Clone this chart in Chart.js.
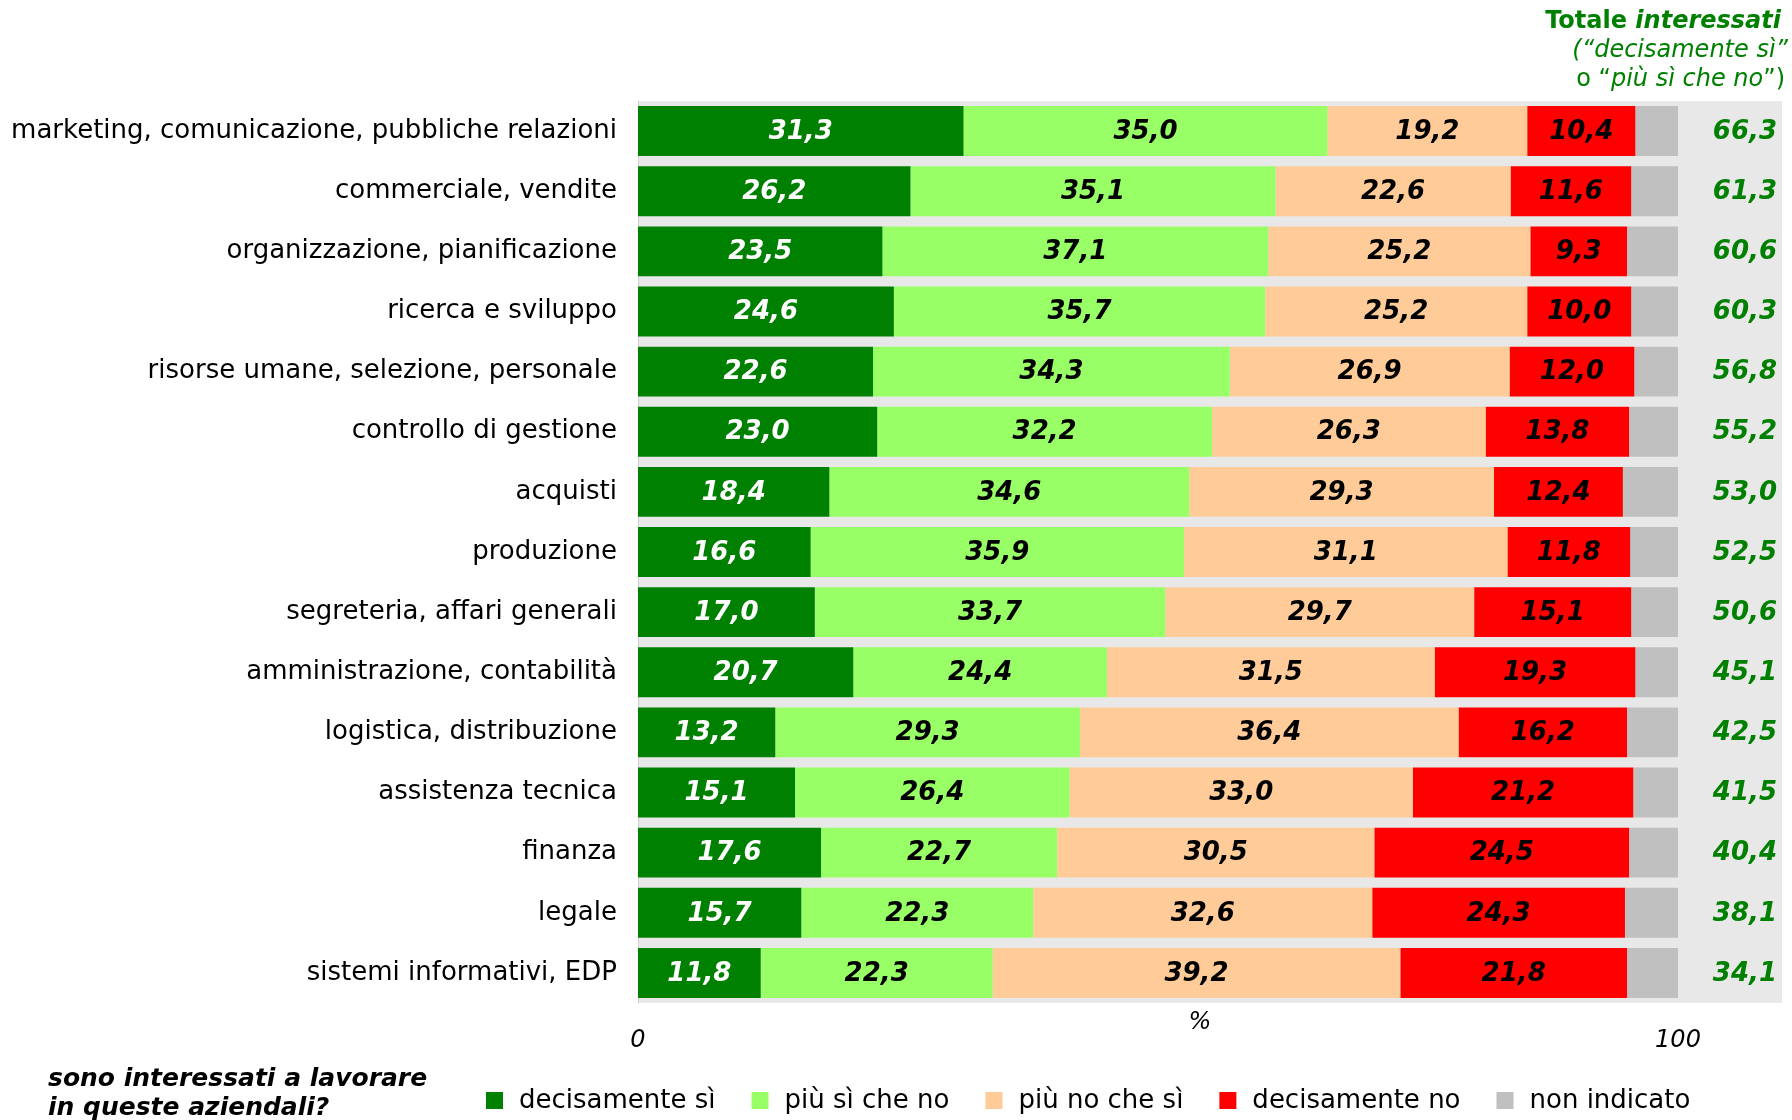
<!DOCTYPE html>
<html>
<head>
<meta charset="utf-8">
<script src="https://cdn.jsdelivr.net/npm/chart.js@4.4.1/dist/chart.umd.min.js"></script>
<style>
  html, body { margin: 0; padding: 0; background: #fff; }
  #wrap { width: 1792px; height: 1120px; }
</style>
</head>
<body>
<div id="wrap"><canvas id="chart" width="1792" height="1120"></canvas></div>
<script>
const areas = [
  "marketing, comunicazione, pubbliche relazioni",
  "commerciale, vendite",
  "organizzazione, pianificazione",
  "ricerca e sviluppo",
  "risorse umane, selezione, personale",
  "controllo di gestione",
  "acquisti",
  "produzione",
  "segreteria, affari generali",
  "amministrazione, contabilità",
  "logistica, distribuzione",
  "assistenza tecnica",
  "finanza",
  "legale",
  "sistemi informativi, EDP"
];
const decisamenteSi = [31.3, 26.2, 23.5, 24.6, 22.6, 23.0, 18.4, 16.6, 17.0, 20.7, 13.2, 15.1, 17.6, 15.7, 11.8];
const piuSiCheNo    = [35.0, 35.1, 37.1, 35.7, 34.3, 32.2, 34.6, 35.9, 33.7, 24.4, 29.3, 26.4, 22.7, 22.3, 22.3];
const piuNoCheSi    = [19.2, 22.6, 25.2, 25.2, 26.9, 26.3, 29.3, 31.1, 29.7, 31.5, 36.4, 33.0, 30.5, 32.6, 39.2];
const decisamenteNo = [10.4, 11.6,  9.3, 10.0, 12.0, 13.8, 12.4, 11.8, 15.1, 19.3, 16.2, 21.2, 24.5, 24.3, 21.8];
const nonIndicato   = [ 4.1,  4.5,  4.9,  4.5,  4.2,  4.7,  5.3,  4.6,  4.5,  4.1,  4.9,  4.3,  4.7,  5.1,  4.9];
const totaleInteressati = [66.3, 61.3, 60.6, 60.3, 56.8, 55.2, 53.0, 52.5, 50.6, 45.1, 42.5, 41.5, 40.4, 38.1, 34.1];
const seriesNames = ["decisamente sì", "più sì che no", "più no che sì", "decisamente no", "non indicato"];
const xTicks = [0, 100];

const colors = ["#008000", "#99ff66", "#ffcc99", "#ff0000", "#c0c0c0"];
const valueColors = ["#ffffff", "#000000", "#000000", "#000000", null];
const FONT = "'DejaVu Sans', Verdana, sans-serif";
const GREEN = "#008000";

const fmt = v => v.toFixed(1).replace(".", ",");

// plot background
const bgPlugin = {
  id: "bg",
  beforeDraw(chart) {
    const { ctx, chartArea: a } = chart;
    ctx.save();
    ctx.fillStyle = "#e8e8e8";
    ctx.fillRect(a.left, a.top, a.right - a.left, a.bottom - a.top);
    ctx.fillStyle = "#cfcfcf";
    ctx.fillRect(a.left, a.top, 1, a.bottom - a.top);
    ctx.restore();
  }
};

// numbers inside bars + totals on the right
const valuesPlugin = {
  id: "values",
  afterDatasetsDraw(chart) {
    const { ctx, chartArea: a } = chart;
    ctx.save();
    ctx.font = "italic bold 26px " + FONT;
    ctx.textAlign = "center";
    ctx.textBaseline = "middle";
    chart.data.datasets.forEach((ds, i) => {
      if (!valueColors[i]) return;
      ctx.fillStyle = valueColors[i];
      chart.getDatasetMeta(i).data.forEach((bar, j) => {
        ctx.fillText(fmt(ds.data[j]), (bar.x + bar.base) / 2, bar.y + 1);
      });
    });
    ctx.fillStyle = GREEN;
    ctx.textAlign = "right";
    const y = chart.scales.y;
    totaleInteressati.forEach((t, j) => {
      ctx.fillText(fmt(t), a.right - 5, y.getPixelForValue(j) + 1);
    });
    ctx.restore();
  }
};

function drawRuns(ctx, runs, right, y) {
  let w = 0;
  runs.forEach(r => { ctx.font = r[1]; w += ctx.measureText(r[0]).width; });
  let x = right - w;
  runs.forEach(r => {
    ctx.font = r[1];
    ctx.fillText(r[0], x, y);
    x += ctx.measureText(r[0]).width;
  });
}

// header, axis unit, legend
const extrasPlugin = {
  id: "extras",
  afterDraw(chart) {
    const { ctx, chartArea: a } = chart;
    ctx.save();
    ctx.textBaseline = "middle";
    ctx.textAlign = "left";
    ctx.fillStyle = GREEN;
    drawRuns(ctx, [["Totale ", "bold 24px " + FONT], ["interessati", "italic bold 24px " + FONT]], 1781, 22);
    drawRuns(ctx, [["(“", "italic 24px " + FONT], ["decisamente sì", "italic 24px " + FONT], ["”", "italic 24px " + FONT]], 1788, 51);
    drawRuns(ctx, [["o “", "24px " + FONT], ["più sì che no", "italic 24px " + FONT], ["”)", "24px " + FONT]], 1785, 80);

    ctx.fillStyle = "#000";
    ctx.font = "italic 24px " + FONT;
    ctx.textAlign = "center";
    ctx.fillText("%", (a.left + a.right) / 2 - 10, a.bottom + 20);

    // legend title
    ctx.textAlign = "left";
    ctx.font = "italic bold 25px " + FONT;
    ctx.fillText("sono interessati a lavorare", 48, 1079);
    ctx.fillText("in queste aziendali?", 48, 1108);

    // legend items
    ctx.font = "26px " + FONT;
    let x = 486;
    chart.data.datasets.forEach((ds, i) => {
      ctx.fillStyle = ds.backgroundColor;
      ctx.fillRect(x, 1092, 17, 17);
      ctx.fillStyle = "#000";
      ctx.fillText(ds.label, x + 33, 1101);
      x += 33 + ctx.measureText(ds.label).width + 36;
    });
    ctx.restore();
  }
};

const seriesData = [decisamenteSi, piuSiCheNo, piuNoCheSi, decisamenteNo, nonIndicato];

new Chart(document.getElementById("chart"), {
  type: "bar",
  data: {
    labels: areas,
    datasets: seriesData.map((d, i) => ({
      label: seriesNames[i],
      data: d,
      backgroundColor: colors[i],
      borderWidth: 0,
      barPercentage: 0.83,
      categoryPercentage: 1
    }))
  },
  options: {
    indexAxis: "y",
    responsive: false,
    animation: false,
    layout: { padding: { top: 101, right: 10, left: 0, bottom: 0 } },
    plugins: { legend: { display: false }, tooltip: { enabled: false } },
    scales: {
      x: {
        stacked: true,
        min: 0,
        max: 110,
        afterBuildTicks: s => { s.ticks = xTicks.map(v => ({ value: v })); },
        afterFit: s => { s.height = 117; },
        grid: { display: false, drawTicks: false },
        border: { display: false },
        ticks: { color: "#000", padding: 23, font: { family: FONT, size: 24, style: "italic" } }
      },
      y: {
        stacked: true,
        afterFit: s => { s.width = 638; },
        grid: { display: false, drawTicks: false },
        border: { display: false },
        ticks: { color: "#000", padding: 21, font: { family: FONT, size: 26 } }
      }
    }
  },
  plugins: [bgPlugin, valuesPlugin, extrasPlugin]
});
</script>
</body>
</html>
